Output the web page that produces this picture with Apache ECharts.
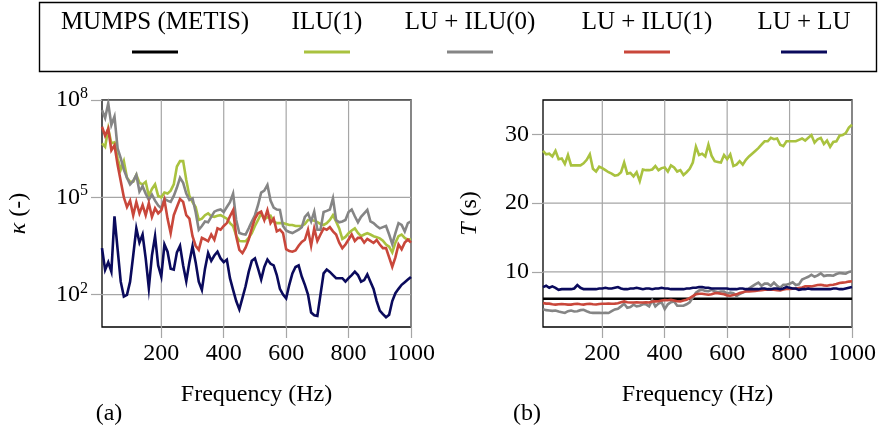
<!DOCTYPE html>
<html>
<head>
<meta charset="utf-8">
<style>
  html, body { margin: 0; padding: 0; background: #fff; }
  #chart { width: 889px; height: 430px; }
</style>
<script src="https://cdn.jsdelivr.net/npm/echarts@6/dist/echarts.min.js"></script>
</head>
<body>
<div id="chart"></div>
<script>
// Frequencies (Hz)
const freq = [
  10, 20, 30, 40, 50, 60, 70, 80, 90, 100,
  110, 120, 130, 140, 150, 160, 170, 180, 190, 200,
  210, 220, 230, 240, 250, 260, 270, 280, 290, 300,
  310, 320, 330, 340, 350, 360, 370, 380, 390, 400,
  410, 420, 430, 440, 450, 460, 470, 480, 490, 500,
  510, 520, 530, 540, 550, 560, 570, 580, 590, 600,
  610, 620, 630, 640, 650, 660, 670, 680, 690, 700,
  710, 720, 730, 740, 750, 760, 770, 780, 790, 800,
  810, 820, 830, 840, 850, 860, 870, 880, 890, 900,
  910, 920, 930, 940, 950, 960, 970, 980, 990, 1000
];

const seriesNames = ['MUMPS (METIS)', 'ILU(1)', 'LU + ILU(0)', 'LU + ILU(1)', 'LU + LU'];
const seriesColors = ['#000000', '#a9c23f', '#858585', '#c9473b', '#0a0a5c'];

// Condition number kappa, panel (a)
const kappaILU1 = [
  4.6e6, 3.6e6, 1.3e7, 4.6e6, 5.0e6, 1.6e6, 7.1e5, 1.3e6, 4.0e5, 3.0e5,
  3.0e5, 4.9e5, 2.8e5, 2.5e5, 3.0e5, 1.1e5, 1.8e5, 2.5e5, 1.1e5, 1.0e5,
  1.4e5, 1.3e5, 1.6e5, 2.5e5, 8.9e5, 1.3e6, 1.3e6, 3.4e5, 1.1e5, 7.1e4,
  5.0e4, 2.0e4, 2.2e4, 2.8e4, 3.2e4, 2.6e4, 2.5e4, 2.7e4, 2.8e4, 2.5e4,
  2.2e4, 1.6e4, 1.3e4, 6.6e3, 4.5e3, 4.4e3, 4.4e3, 5.6e3, 7.8e3, 1.3e4,
  2.0e4, 3.2e4, 2.1e4, 2.4e4, 2.7e4, 1.8e4, 1.6e4, 1.6e4, 1.6e4, 1.5e4,
  1.4e4, 1.4e4, 1.3e4, 1.3e4, 1.3e4, 1.5e4, 2.0e4, 2.0e4, 1.9e4, 1.7e4,
  1.5e4, 1.4e4, 1.6e4, 2.0e4, 2.8e4, 1.8e4, 1.1e4, 5.2e3, 6.0e3, 7.8e3,
  9.5e3, 1.1e4, 7.9e3, 6.3e3, 7.1e3, 7.8e3, 7.1e3, 6.3e3, 5.9e3, 5.4e3,
  4.6e3, 3.5e3, 3.0e3, 2.0e3, 4.0e3, 6.3e3, 7.1e3, 5.6e3, 4.9e3, 5.2e3
];
const kappaLUILU0 = [
  4.9e7, 2.8e7, 7.9e7, 1.7e7, 3.1e7, 3.2e6, 1.6e6, 7.1e5, 4.0e5, 2.5e5,
  3.2e5, 4.9e5, 1.5e5, 2.2e5, 1.3e5, 8.3e4, 1.2e5, 7.9e4, 5.6e4, 4.6e4,
  8.9e4, 7.9e4, 7.2e4, 1.1e5, 2.0e5, 4.0e5, 2.8e5, 1.3e5, 8.3e4, 9.3e4,
  3.5e4, 1.0e4, 1.3e4, 1.8e4, 1.7e4, 2.5e4, 3.6e4, 4.0e4, 4.2e4, 3.5e4,
  5.0e4, 7.1e4, 1.3e5, 2.0e4, 7.9e3, 7.4e3, 7.1e3, 1.1e4, 1.8e4, 2.8e4,
  5.8e4, 1.4e5, 1.6e5, 2.4e5, 7.9e4, 4.8e4, 4.2e4, 4.1e4, 1.3e4, 9.5e3,
  8.5e3, 7.9e3, 8.9e3, 1.0e4, 1.2e4, 2.5e4, 3.2e4, 1.8e4, 3.6e4, 1.0e4,
  1.0e4, 3.5e4, 3.8e4, 4.2e4, 9.3e4, 2.0e4, 1.7e4, 1.8e4, 2.0e4, 3.5e4,
  4.2e4, 2.6e4, 1.7e4, 2.5e4, 3.2e4, 4.1e4, 1.8e4, 1.6e4, 1.3e4, 1.1e4,
  1.2e4, 1.3e4, 7.1e3, 3.6e3, 7.9e3, 1.6e4, 1.4e4, 8.9e3, 1.6e4, 1.8e4
];
const kappaLUILU1 = [
  1.5e7, 7.9e6, 1.3e7, 2.8e6, 4.0e6, 1.0e6, 3.2e5, 1.0e5, 5.0e4, 7.9e4,
  2.8e4, 7.2e4, 3.2e4, 5.8e4, 2.8e4, 6.6e4, 2.5e4, 4.6e4, 3.2e4, 4.0e4,
  8.3e4, 2.2e4, 7.8e3, 2.8e4, 5.0e4, 8.9e4, 7.2e4, 2.8e4, 2.2e4, 6.3e3,
  3.2e3, 2.4e3, 5.6e3, 5.0e3, 4.4e3, 7.1e3, 4.9e3, 1.1e4, 1.0e4, 1.3e4,
  1.6e4, 2.6e4, 4.0e4, 6.3e3, 2.4e3, 1.9e3, 2.8e3, 5.0e3, 1.1e4, 2.2e4,
  3.2e4, 3.6e4, 2.0e4, 4.0e4, 1.6e4, 2.2e4, 8.9e3, 1.0e4, 7.9e3, 2.5e3,
  2.2e3, 2.1e3, 2.3e3, 3.2e3, 4.2e3, 4.9e3, 1.0e4, 3.2e3, 1.1e4, 4.5e3,
  7.1e3, 1.1e4, 1.0e4, 1.2e4, 8.9e3, 7.1e3, 4.0e3, 2.7e3, 3.5e3, 5.0e3,
  7.1e3, 4.5e3, 5.6e3, 5.6e3, 4.0e3, 5.2e3, 4.5e3, 3.9e3, 4.8e3, 3.5e3,
  2.7e3, 2.7e3, 1.4e3, 7.2e2, 1.4e3, 3.5e3, 2.5e3, 4.0e3, 5.0e3, 4.0e3
];
const kappaLULU = [
  2.7e3, 5.8e2, 1.0e3, 5.1e2, 2.6e4, 2.5e3, 2.5e2, 87, 98, 2.5e2,
  1.6e3, 1.1e4, 4.0e3, 7.1e3, 1.3e3, 1.6e2, 1.6e3, 6.3e3, 7.9e2, 3.6e2,
  3.5e3, 2.1e3, 6.3e2, 5.9e2, 2.0e3, 3.2e3, 7.9e2, 2.6e2, 1.0e3, 3.1e3,
  1.0e3, 2.5e2, 1.4e2, 6.3e2, 1.9e3, 1.1e3, 1.6e3, 2.1e3, 1.3e3, 1.0e3,
  1.2e3, 3.2e2, 1.4e2, 63, 35, 79, 1.8e2, 5.0e2, 1.1e3, 1.3e3,
  6.3e2, 2.9e2, 7.1e2, 1.2e3, 8.9e2, 7.9e2, 4.0e2, 1.5e2, 1.0e2, 76,
  2.0e2, 4.5e2, 7.1e2, 7.9e2, 3.6e2, 2.0e2, 1.0e2, 28, 23, 22,
  1.0e2, 4.5e2, 5.9e2, 5.0e2, 4.0e2, 3.2e2, 3.2e2, 3.2e2, 2.5e2, 3.2e2,
  4.0e2, 5.1e2, 4.0e2, 2.5e2, 2.8e2, 4.2e2, 2.5e2, 1.5e2, 63, 32,
  25, 20, 24, 63, 1.1e2, 1.5e2, 2.0e2, 2.4e2, 2.9e2, 3.5e2
];

// Solve time T (s), panel (b)
const timeMUMPS = [
  6.1, 6.1, 6.1, 6.1, 6.1, 6.1, 6.1, 6.1, 6.1, 6.1,
  6.1, 6.1, 6.1, 6.1, 6.1, 6.1, 6.1, 6.1, 6.1, 6.1,
  6.1, 6.1, 6.1, 6.1, 6.1, 6.1, 6.1, 6.1, 6.1, 6.1,
  6.1, 6.1, 6.1, 6.1, 6.1, 6.1, 6.1, 6.1, 6.1, 6.1,
  6.1, 6.1, 6.1, 6.1, 6.1, 6.1, 6.1, 6.1, 6.1, 6.1,
  6.1, 6.1, 6.1, 6.1, 6.1, 6.1, 6.1, 6.1, 6.1, 6.1,
  6.1, 6.1, 6.1, 6.1, 6.1, 6.1, 6.1, 6.1, 6.1, 6.1,
  6.1, 6.1, 6.1, 6.1, 6.1, 6.1, 6.1, 6.1, 6.1, 6.1,
  6.1, 6.1, 6.1, 6.1, 6.1, 6.1, 6.1, 6.1, 6.1, 6.1,
  6.1, 6.1, 6.1, 6.1, 6.1, 6.1, 6.1, 6.1, 6.1, 6.1
];
const timeILU1 = [
  27.6, 27.1, 27.2, 26.8, 27.6, 26.4, 26.5, 25.7, 27.0, 25.5,
  25.5, 25.5, 25.5, 25.8, 26.3, 27.1, 25.0, 24.6, 25.3, 25.1,
  24.8, 24.5, 24.3, 24.0, 24.1, 24.5, 25.9, 24.3, 24.4, 23.9,
  24.5, 23.2, 24.9, 24.8, 24.8, 24.9, 25.4, 24.8, 25.1, 25.2,
  24.6, 25.5, 25.2, 24.6, 24.8, 24.1, 24.5, 25.0, 25.9, 28.2,
  27.0, 27.2, 26.8, 28.5, 26.9, 26.1, 26.0, 25.9, 27.0, 26.4,
  27.1, 25.4, 25.6, 26.1, 25.6, 26.3, 26.8, 27.2, 27.6, 28.0,
  28.5, 29.0, 29.0, 29.5, 29.3, 29.4, 28.5, 28.3, 29.0, 29.0,
  29.0, 29.0, 29.2, 29.4, 29.1, 29.5, 29.9, 28.8, 29.3, 29.5,
  28.6, 29.1, 28.2, 28.9, 29.0, 29.8, 29.9, 30.2, 31.0, 31.4
];
const timeLUILU0 = [
  4.6, 4.45, 4.4, 4.35, 4.4, 4.25, 4.15, 4.05, 4.3, 4.4,
  4.25, 4.3, 4.45, 4.5, 4.3, 4.12, 4.05, 4.05, 4.05, 4.03,
  4.05, 4.03, 4.3, 4.55, 4.65, 5.0, 5.38, 4.8, 4.9, 5.24,
  5.0, 5.1, 5.3, 5.3, 5.0, 5.9, 5.0, 5.4, 5.6, 4.6,
  5.3, 5.6, 5.7, 5.1, 5.1, 5.1, 5.3, 5.6, 6.3, 7.0,
  7.3, 7.4, 7.25, 7.2, 7.4, 7.2, 7.05, 7.15, 7.15, 6.85,
  7.0, 6.9, 6.5, 6.8, 7.0, 7.2, 7.6, 7.9, 8.2, 8.45,
  8.0, 8.3, 8.3, 8.0, 8.45, 8.0, 7.7, 8.15, 8.15, 8.3,
  8.5, 8.1, 8.2, 8.9, 9.1, 9.3, 9.6, 9.3, 9.5, 9.8,
  9.4, 9.5, 9.5, 9.45, 9.7, 9.85, 9.8, 9.75, 10.0, 10.1
];
const timeLUILU1 = [
  5.5, 5.4, 5.4, 5.3, 5.25, 5.3, 5.35, 5.3, 5.25, 5.25,
  5.35, 5.38, 5.3, 5.25, 5.35, 5.38, 5.3, 5.28, 5.35, 5.38,
  5.38, 5.4, 5.38, 5.4, 5.45, 5.6, 5.72, 5.6, 5.57, 5.57,
  5.6, 5.57, 5.57, 5.6, 5.57, 5.7, 5.72, 5.75, 5.85, 5.9,
  5.88, 5.95, 5.85, 5.75, 5.72, 5.85, 5.96, 6.2, 6.5, 6.75,
  6.84, 6.84, 6.75, 6.7, 6.75, 6.9, 6.92, 6.84, 6.75, 6.6,
  6.55, 6.65, 6.75, 6.94, 7.05, 7.18, 7.18, 7.2, 7.25, 7.32,
  7.35, 7.42, 7.42, 7.42, 7.42, 7.35, 7.32, 7.45, 7.52, 7.52,
  7.55, 7.6, 7.67, 7.75, 7.9, 7.9, 7.9, 8.0, 8.1, 8.15,
  8.05, 8.0, 8.1, 8.15, 8.25, 8.4, 8.45, 8.5, 8.6, 8.65
];
const timeLULU = [
  7.8, 8.0, 7.7, 7.9, 7.7, 7.4, 7.5, 7.5, 7.5, 7.5,
  7.6, 8.1, 7.7, 7.5, 7.5, 7.5, 7.5, 7.5, 7.6, 7.6,
  7.7, 7.6, 7.6, 7.7, 7.8, 7.6, 7.5, 7.5, 7.6, 7.6,
  7.7, 7.6, 7.5, 7.6, 7.6, 7.5, 7.6, 7.6, 7.7, 7.6,
  7.6, 7.5, 7.5, 7.5, 7.5, 7.5, 7.6, 7.6, 7.7, 7.7,
  7.8, 7.8, 7.7, 7.7, 7.6, 7.6, 7.6, 7.6, 7.6, 7.6,
  7.5, 7.5, 7.5, 7.6, 7.6, 7.5, 7.5, 7.5, 7.5, 7.5,
  7.6, 7.6, 7.5, 7.5, 7.6, 7.6, 7.5, 7.6, 7.8, 7.7,
  7.6, 7.6, 7.4, 7.5, 7.5, 7.6, 7.5, 7.5, 7.5, 7.5,
  7.5, 7.5, 7.5, 7.6, 7.6, 7.5, 7.5, 7.6, 7.7, 7.8
];

// Axis ranges and tick values
const freqRange = [10, 1000];
const kappaRange = [10, 1e8];
const timeRange = [2, 35];
const freqTicks = [200, 400, 600, 800, 1000];
const kappaTicks = [1e2, 1e5, 1e8];
const timeTicks = [10, 20, 30];

const FONT = 'Liberation Serif';
const GRID_COLOR = '#a6a6a6';
const LINE_W = 2.6;

function pairs(ys) { return freq.map((f, i) => [f, ys[i]]); }

function xAxisFor(gridIndex) {
  return {
    type: 'value', gridIndex: gridIndex, min: freqRange[0], max: freqRange[1],
    name: 'Frequency (Hz)', nameLocation: 'middle', nameGap: 56, nameMoveOverlap: false,
    nameTextStyle: { fontFamily: FONT, fontSize: 24, color: '#000' },
    axisLine: { show: false },
    axisTick: { show: true, inside: false, length: 11, customValues: freqTicks,
                lineStyle: { color: GRID_COLOR, width: 1.2 } },
    axisLabel: { customValues: freqTicks, margin: 15, fontFamily: FONT, fontSize: 24, color: '#000',
                 formatter: v => String(v) },
    splitLine: { show: false }
  };
}

function lineSeries(name, color, xi, data, z) {
  return {
    name: name, type: 'line', xAxisIndex: xi, yAxisIndex: xi,
    data: pairs(data), showSymbol: false, symbol: 'none', z: z,
    lineStyle: { color: color, width: LINE_W, join: 'miter' },
    itemStyle: { color: color }, animation: false
  };
}

// Major grid lines at the tick values, drawn as thin series behind the data
function gridSeries(xi, yRange, yTicks) {
  const out = [];
  const mk = pts => ({
    type: 'line', xAxisIndex: xi, yAxisIndex: xi, data: pts, z: 1, silent: true,
    showSymbol: false, symbol: 'none', animation: false,
    lineStyle: { color: GRID_COLOR, width: 1.2, opacity: 1 }, tooltip: { show: false }
  });
  freqTicks.forEach(v => out.push(mk([[v, yRange[0]], [v, yRange[1]]])));
  yTicks.forEach(v => out.push(mk([[freqRange[0], v], [freqRange[1], v]])));
  return out;
}

// Legend drawn as text with a short line sample below each entry
const legendCenters = [155, 327, 470, 647, 804];
const legendGraphics = [{
  type: 'rect', left: 37, top: 0,
  shape: { width: 837, height: 69 },
  style: { fill: 'none', stroke: '#000', lineWidth: 1.4 }
}];
seriesNames.forEach((n, i) => {
  legendGraphics.push({
    type: 'text', x: legendCenters[i], y: 22,
    style: { text: n, fontFamily: FONT, fontSize: 25, fill: '#000',
             textAlign: 'center', textVerticalAlign: 'middle' }
  });
  legendGraphics.push({
    type: 'line', shape: { x1: legendCenters[i] - 23, y1: 52, x2: legendCenters[i] + 23, y2: 52 },
    style: { stroke: seriesColors[i], lineWidth: 2.8 }
  });
});
legendGraphics.push({
  type: 'text', x: 109, y: 414,
  style: { text: '(a)', fontFamily: FONT, fontSize: 24, fill: '#000', textAlign: 'center', textVerticalAlign: 'middle' }
});
legendGraphics.push({
  type: 'text', x: 527, y: 414,
  style: { text: '(b)', fontFamily: FONT, fontSize: 24, fill: '#000', textAlign: 'center', textVerticalAlign: 'middle' }
});

const option = {
  animation: false,
  backgroundColor: '#fff',
  grid: [
    { left: 102, top: 100, width: 309, height: 227, show: true, borderColor: '#000', borderWidth: 1.3 },
    { left: 543, top: 100, width: 309, height: 227, show: true, borderColor: '#000', borderWidth: 1.3 }
  ],
  xAxis: [xAxisFor(0), xAxisFor(1)],
  yAxis: [
    {
      type: 'log', logBase: 10, gridIndex: 0, min: kappaRange[0], max: kappaRange[1],
      name: '{i|κ} (-)', nameLocation: 'middle', nameGap: 71, nameRotate: 90, nameMoveOverlap: false,
      nameTextStyle: { fontFamily: FONT, fontSize: 24, color: '#000',
        rich: { i: { fontFamily: FONT, fontSize: 24, fontStyle: 'italic' } } },
      axisLine: { show: false },
      axisTick: { show: true, length: 11, customValues: kappaTicks, lineStyle: { color: GRID_COLOR, width: 1.2 } },
      axisLabel: {
        customValues: kappaTicks, margin: 14, fontFamily: FONT, fontSize: 24, color: '#000',
        formatter: v => '{b|10}{e|' + Math.round(Math.log10(v)) + '}',
        rich: {
          b: { fontFamily: FONT, fontSize: 24, color: '#000' },
          e: { fontFamily: FONT, fontSize: 16, color: '#000', padding: [0, 0, 12, 0] }
        }
      },
      splitLine: { show: false }
    },
    {
      type: 'value', gridIndex: 1, min: timeRange[0], max: timeRange[1],
      name: '{i|T} (s)', nameLocation: 'middle', nameGap: 61, nameRotate: 90, nameMoveOverlap: false,
      nameTextStyle: { fontFamily: FONT, fontSize: 24, color: '#000',
        rich: { i: { fontFamily: FONT, fontSize: 24, fontStyle: 'italic' } } },
      axisLine: { show: false },
      axisTick: { show: true, length: 11, customValues: timeTicks, lineStyle: { color: GRID_COLOR, width: 1.2 } },
      axisLabel: { customValues: timeTicks, margin: 14, fontFamily: FONT, fontSize: 24, color: '#000' },
      splitLine: { show: false }
    }
  ],
  series: [].concat(
    gridSeries(0, kappaRange, kappaTicks),
    gridSeries(1, timeRange, timeTicks),
    [
      lineSeries(seriesNames[1], seriesColors[1], 0, kappaILU1, 2),
      lineSeries(seriesNames[2], seriesColors[2], 0, kappaLUILU0, 3),
      lineSeries(seriesNames[3], seriesColors[3], 0, kappaLUILU1, 4),
      lineSeries(seriesNames[4], seriesColors[4], 0, kappaLULU, 5),
      lineSeries(seriesNames[0], seriesColors[0], 1, timeMUMPS, 2),
      lineSeries(seriesNames[1], seriesColors[1], 1, timeILU1, 3),
      lineSeries(seriesNames[2], seriesColors[2], 1, timeLUILU0, 4),
      lineSeries(seriesNames[3], seriesColors[3], 1, timeLUILU1, 5),
      lineSeries(seriesNames[4], seriesColors[4], 1, timeLULU, 6)
    ]
  ),
  graphic: legendGraphics
};

const chart = echarts.init(document.getElementById('chart'), null, { renderer: 'canvas' });
chart.setOption(option);
</script>
</body>
</html>
